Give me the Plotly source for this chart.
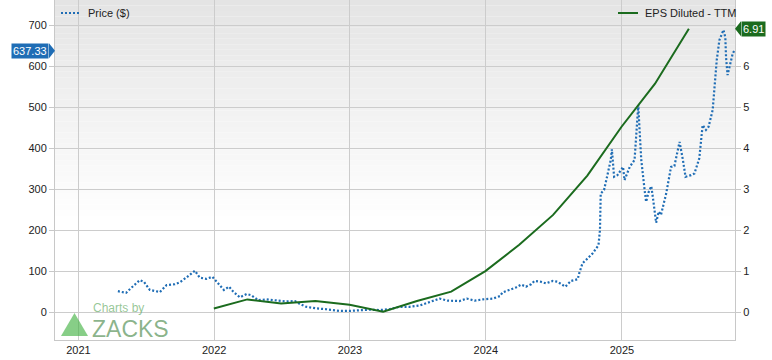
import plotly.graph_objects as go

price_dates = [
    "2021-04-17", "2021-05-09", "2021-05-24", "2021-06-15", "2021-06-26", "2021-07-12",
    "2021-08-08", "2021-08-26", "2021-09-17", "2021-10-01", "2021-10-19", "2021-11-10",
    "2021-11-23", "2021-12-11", "2021-12-27", "2022-01-12", "2022-01-27", "2022-02-10",
    "2022-02-21", "2022-03-11", "2022-03-29", "2022-04-11", "2022-04-29", "2022-05-21",
    "2022-06-17", "2022-07-14", "2022-08-06", "2022-08-19", "2022-09-05", "2022-10-03",
    "2022-10-30", "2022-12-04", "2023-01-01", "2023-01-27", "2023-02-23", "2023-03-22",
    "2023-04-17", "2023-05-14", "2023-06-10", "2023-07-07", "2023-08-03", "2023-08-30",
    "2023-09-21", "2023-10-22", "2023-11-11", "2023-12-02", "2023-12-24", "2024-01-20",
    "2024-02-08", "2024-02-15", "2024-03-04", "2024-03-22", "2024-04-05", "2024-04-18",
    "2024-05-02", "2024-05-11", "2024-05-28", "2024-06-11", "2024-06-29", "2024-07-12",
    "2024-07-24", "2024-08-02", "2024-08-17", "2024-09-04", "2024-09-08", "2024-09-17",
    "2024-10-01", "2024-10-14", "2024-10-30", "2024-11-03", "2024-11-05", "2024-11-14",
    "2024-11-23", "2024-12-02", "2024-12-05", "2024-12-11", "2024-12-20", "2025-01-04",
    "2025-01-08", "2025-01-22", "2025-02-04", "2025-02-10", "2025-02-14", "2025-02-17",
    "2025-02-22", "2025-03-03", "2025-03-07", "2025-03-14", "2025-03-21", "2025-03-25",
    "2025-04-03", "2025-04-10", "2025-04-16", "2025-04-30", "2025-05-13", "2025-05-22",
    "2025-06-05", "2025-06-14", "2025-06-21", "2025-07-06", "2025-07-15", "2025-07-28",
    "2025-08-06", "2025-08-15", "2025-08-22", "2025-09-02", "2025-09-09", "2025-09-13",
    "2025-09-20", "2025-10-01", "2025-10-06", "2025-10-08", "2025-10-12", "2025-10-17",
    "2025-10-26", "2025-10-30",
]
price_values = [
    51, 47, 60, 78, 74, 54,
    49, 66, 68, 73, 85, 101,
    84, 81, 86, 70, 54, 62,
    50, 36, 44, 41, 29, 31,
    28, 26, 27, 20, 13, 9,
    7, 3, 3, 4, 6, 5,
    7, 13, 13, 16, 25, 33,
    28, 27, 33, 28, 31, 33,
    39, 48, 54, 60, 67, 62,
    68, 76, 74, 70, 76, 74,
    67, 62, 76, 80, 94, 119,
    131, 143, 163, 200, 289, 298,
    334, 371, 397, 330, 334, 354,
    322, 354, 371, 452, 505, 452,
    371, 298, 269, 293, 307, 281,
    218, 245, 237, 289, 354, 356,
    415, 371, 330, 334, 338, 375,
    456, 444, 452, 493, 574, 615,
    663, 688, 670, 620, 578, 598,
    631, 637.33,
]

eps_dates = [
    "2021-12-31", "2022-03-31", "2022-06-30", "2022-09-30", "2022-12-31",
    "2023-03-31", "2023-06-30", "2023-09-30", "2023-12-31", "2024-03-31",
    "2024-06-30", "2024-09-30", "2024-12-31", "2025-03-31", "2025-06-30",
]
eps_values = [
    0.09, 0.31, 0.21, 0.27, 0.18,
    0.01, 0.27, 0.50, 1.00, 1.64,
    2.37, 3.33, 4.52, 5.57, 6.91,
]

year_ticks = ["2021-01-01", "2022-01-01", "2023-01-01", "2024-01-01", "2025-01-01"]
year_labels = ["2021", "2022", "2023", "2024", "2025"]
price_ticks = [0, 100, 200, 300, 400, 500, 600, 700]
eps_ticks = [0, 1, 2, 3, 4, 5, 6]

last_price = price_values[-1]
last_eps = eps_values[-1]

BLUE = "#1f6db5"
GREEN = "#1b6b1e"
FONT = "Liberation Sans, Arial, sans-serif"

fig = go.Figure()
fig.add_trace(go.Scatter(
    x=price_dates, y=price_values, mode="lines", name="Price ($)",
    line=dict(color=BLUE, width=2.2, dash="2px,2px"), yaxis="y",
))
fig.add_trace(go.Scatter(
    x=eps_dates, y=eps_values, mode="lines", name="EPS Diluted - TTM",
    line=dict(color=GREEN, width=2), yaxis="y2",
))

# gradient background bands
shapes = []
n = 40
top_c = 228
start = 0.35
for i in range(n):
    y0 = start + (1 - start) * i / n
    y1 = start + (1 - start) * (i + 1) / n
    t = (i + 0.5) / n
    c = int(round(255 - (255 - top_c) * t))
    shapes.append(dict(type="rect", xref="x domain", yref="y domain",
                       x0=0, x1=1, y0=y0, y1=y1, line=dict(width=0),
                       fillcolor=f"rgb({c},{c},{c})", layer="below"))

# legend lines
shapes.append(dict(type="line", xref="paper", yref="paper",
                   x0=(61 - 55) / 680, x1=(80 - 55) / 680, y0=(340 - 13) / 340, y1=(340 - 13) / 340,
                   line=dict(color=BLUE, width=2.2, dash="2px,2px")))
shapes.append(dict(type="line", xref="paper", yref="paper",
                   x0=(618 - 55) / 680, x1=(638 - 55) / 680, y0=(340 - 13) / 340, y1=(340 - 13) / 340,
                   line=dict(color=GREEN, width=2)))

# label arrows
shapes.append(dict(type="path", xref="paper", yref="y", xsizemode="pixel", ysizemode="pixel",
                   xanchor=0, yanchor=last_price,
                   path="M -6,-7.5 L 0,0 L -6,7.5 Z", fillcolor=BLUE, line=dict(width=0)))
shapes.append(dict(type="path", xref="paper", yref="y2", xsizemode="pixel", ysizemode="pixel",
                   xanchor=1, yanchor=last_eps,
                   path="M 6,-7.5 L 0,0 L 6,7.5 Z", fillcolor=GREEN, line=dict(width=0)))

# watermark triangle
shapes.append(dict(type="path", xref="paper", yref="paper",
                   path=f"M {(61-55)/680},{(340-336)/340} L {(88-55)/680},{(340-336)/340} L {(74.5-55)/680},{(340-313)/340} Z",
                   fillcolor="rgba(70,180,70,0.65)", line=dict(width=0)))

annotations = [
    dict(text="Price ($)", xref="paper", yref="paper", x=(86 - 55) / 680, y=(340 - 13) / 340,
         xanchor="left", yanchor="middle", showarrow=False, font=dict(family=FONT, size=11, color="#222")),
    dict(text="EPS Diluted - TTM", xref="paper", yref="paper", x=(643 - 55) / 680, y=(340 - 13) / 340,
         xanchor="left", yanchor="middle", showarrow=False, font=dict(family=FONT, size=11, color="#222")),
    dict(text=f"{last_price:.2f}", xref="paper", yref="y", x=0, y=last_price, xanchor="right",
         yanchor="middle", xshift=-6, showarrow=False, bgcolor=BLUE, borderpad=1,
         font=dict(family=FONT, size=11, color="white")),
    dict(text=f"{last_eps:.2f}", xref="paper", yref="y2", x=1, y=last_eps, xanchor="left",
         yanchor="middle", xshift=6, showarrow=False, bgcolor=GREEN, borderpad=1,
         font=dict(family=FONT, size=11, color="white")),
    dict(text="Charts by", xref="paper", yref="paper", x=(91 - 55) / 680, y=(340 - 308) / 340,
         xanchor="left", yanchor="middle", showarrow=False,
         font=dict(family=FONT, size=12, color="rgba(60,150,60,0.55)")),
    dict(text="ZACKS", xref="paper", yref="paper", x=(90 - 55) / 680, y=(340 - 329) / 340,
         xanchor="left", yanchor="middle", showarrow=False,
         font=dict(family=FONT, size=23, color="rgba(60,130,60,0.6)")),
]

fig.update_layout(
    width=772, height=360,
    margin=dict(l=55, r=37, t=0, b=20),
    paper_bgcolor="white", plot_bgcolor="white",
    showlegend=False,
    font=dict(family=FONT, size=11, color="#222"),
    xaxis=dict(type="date", range=["2020-10-30", "2025-11-01"],
               tickvals=year_ticks, ticktext=year_labels,
               showgrid=True, gridcolor="#cccccc", gridwidth=1,
               showline=True, linecolor="#c8c8c8", linewidth=1, ticks="", zeroline=False),
    yaxis=dict(range=[-68, 761], tickvals=price_ticks,
               showgrid=True, gridcolor="#cccccc", gridwidth=1, zeroline=False,
               showline=True, linecolor="#c8c8c8", linewidth=1,
               ticks="outside", ticklen=5, tickcolor="#c8c8c8"),
    yaxis2=dict(range=[-0.68, 7.61], tickvals=eps_ticks, overlaying="y", side="right",
                showgrid=False, zeroline=False,
                showline=True, linecolor="#c8c8c8", linewidth=1,
                ticks="outside", ticklen=5, tickcolor="#c8c8c8"),
    shapes=shapes,
    annotations=annotations,
)

fig.write_html("out.html", config={"displayModeBar": False},
               post_script="document.body.style.margin='0';document.body.style.padding='0';")
